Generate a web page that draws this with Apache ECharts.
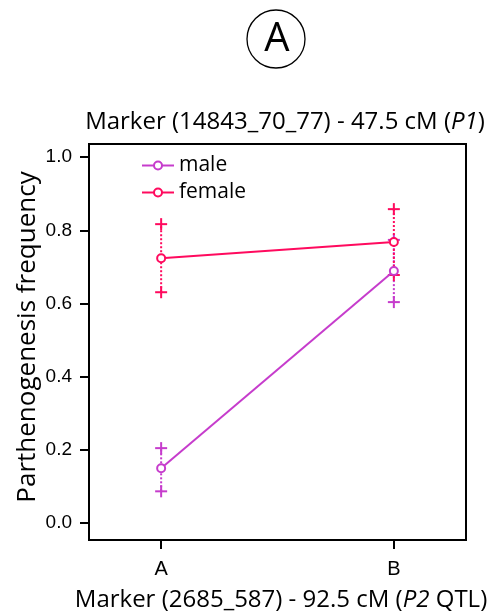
<!DOCTYPE html>
<html><head><meta charset="utf-8">
<script src="https://cdn.jsdelivr.net/npm/echarts@6/dist/echarts.min.js"></script>
<style>html,body{margin:0;padding:0;background:#fff}#c{width:490px;height:614px}</style>
</head><body><div id="c"></div>
<script>
const categories = ['A', 'B'];
const yTicks = [0, 0.2, 0.4, 0.6, 0.8, 1.0];
const maleMean = [0.150, 0.689];
const maleLow = [0.087, 0.604];
const maleHigh = [0.205, 0.774];
const femaleMean = [0.724, 0.768];
const femaleLow = [0.631, 0.678];
const femaleHigh = [0.817, 0.858];

const MALE = '#C63CCC';
const FEMALE = '#FF0A5E';
const FONT = '"Open Sans", "Noto Sans", sans-serif';

function errData(lo, hi) { return categories.map((c, i) => [i, lo[i], hi[i]]); }
function errSeries(lo, hi, color) {
  return {
    type: 'custom', data: errData(lo, hi), silent: true, z: 3,
    renderItem: function (params, api) {
      const a = api.coord([api.value(0), api.value(1)]);
      const b = api.coord([api.value(0), api.value(2)]);
      const s = 6;
      const st = { stroke: color, lineWidth: 2, fill: null };
      const plus = p => [
        { type: 'line', shape: { x1: p[0] - s, y1: p[1], x2: p[0] + s, y2: p[1] }, style: st },
        { type: 'line', shape: { x1: p[0], y1: p[1] - s, x2: p[0], y2: p[1] + s }, style: st }
      ];
      return { type: 'group', children: [
        { type: 'line', shape: { x1: a[0], y1: a[1], x2: b[0], y2: b[1] }, style: { stroke: color, lineWidth: 2, lineDash: [2, 2] } }
      ].concat(plus(a), plus(b)) };
    }
  };
}
function meanSeries(name, vals, color, z) {
  return {
    type: 'line', name: name, z: z,
    data: vals.map((v, i) => [i, v]),
    symbol: 'emptyCircle', symbolSize: 8,
    lineStyle: { color: color, width: 2 },
    itemStyle: { color: color, borderWidth: 2 }
  };
}

const chart = echarts.init(document.getElementById('c'), null, { renderer: 'canvas' });
chart.setOption({
  animation: false,
  backgroundColor: '#fff',
  grid: { left: 89, right: 24, top: 144, bottom: 74, show: true, borderColor: '#000', borderWidth: 2, backgroundColor: 'transparent' },
  xAxis: {
    type: 'value', min: -0.31, max: 1.31,
    axisLine: { show: false, onZero: false }, splitLine: { show: false },
    axisTick: { show: true, customValues: [0, 1], length: 9, lineStyle: { color: '#000', width: 2 } },
    axisLabel: { customValues: [0, 1], formatter: v => categories[Math.round(v)], color: '#000', fontSize: 20, fontFamily: '"Liberation Sans", Arial, sans-serif', margin: 19 }
  },
  yAxis: {
    type: 'value', min: -0.046, max: 1.036,
    axisLine: { show: false, onZero: false }, splitLine: { show: false },
    axisTick: { show: true, customValues: yTicks, length: 9, lineStyle: { color: '#000', width: 2 } },
    axisLabel: { customValues: yTicks, formatter: v => v.toFixed(1), color: '#000', fontSize: 19, fontFamily: '"Liberation Sans", Arial, sans-serif', margin: 17 }
  },
  legend: {
    left: 136, top: 150, orient: 'vertical', itemWidth: 32, itemHeight: 10, itemGap: 6,
    textStyle: { fontSize: 21, fontFamily: FONT, color: '#000' },
    data: ['male', 'female']
  },
  series: [
    errSeries(maleLow, maleHigh, MALE),
    meanSeries('male', maleMean, MALE, 4),
    errSeries(femaleLow, femaleHigh, FEMALE),
    meanSeries('female', femaleMean, FEMALE, 5)
  ],
  graphic: [
    { type: 'circle', shape: { cx: 276, cy: 39, r: 29 }, style: { fill: 'none', stroke: '#000', lineWidth: 1.3 } },
    { type: 'text', x: 277, y: 40, style: { text: 'A', fontSize: 40, fontFamily: FONT, fill: '#000', align: 'center', verticalAlign: 'middle' } },
    { type: 'text', x: 285, y: 122, style: {
      text: '{a|Marker (14843_70_77) - 47.5 cM (}{i|P1}{a|)}',
      align: 'center', verticalAlign: 'middle',
      rich: { a: { fontSize: 24, fontFamily: FONT, fill: '#000' }, i: { fontSize: 24, fontFamily: FONT, fontStyle: 'italic', fill: '#000' } }
    } },
    { type: 'text', x: 281, y: 600, style: {
      text: '{a|Marker (2685_587) - 92.5 cM (}{i|P2}{a| QTL)}',
      align: 'center', verticalAlign: 'middle',
      rich: { a: { fontSize: 24, fontFamily: FONT, fill: '#000' }, i: { fontSize: 24, fontFamily: FONT, fontStyle: 'italic', fill: '#000' } }
    } },
    { type: 'text', x: 28, y: 337, rotation: Math.PI / 2, style: { text: 'Parthenogenesis frequency', fontSize: 26, fontFamily: FONT, fill: '#000', align: 'center', verticalAlign: 'middle' } }
  ]
});
</script></body></html>
